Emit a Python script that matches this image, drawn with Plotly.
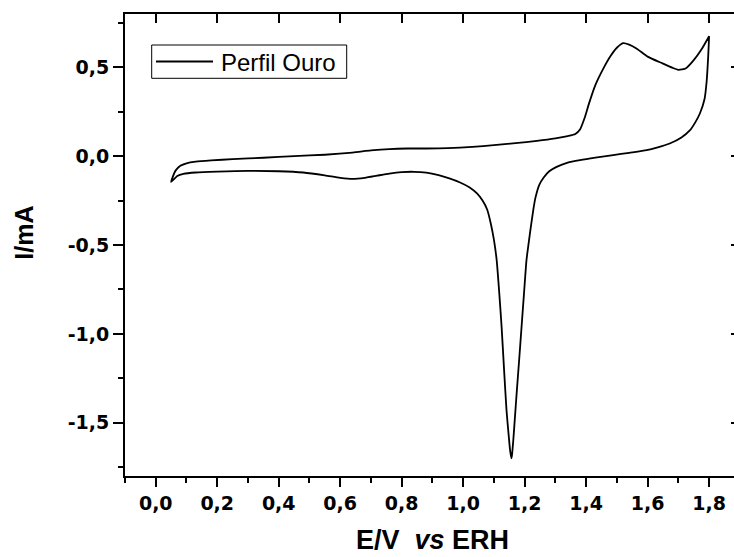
import plotly.graph_objects as go

# Forward (anodic) scan: 0.05 V -> 1.80 V
E_fwd = [0.050, 0.055, 0.065, 0.080, 0.100, 0.130, 0.180, 0.250, 0.350, 0.450,
         0.550, 0.640, 0.700, 0.760, 0.820, 0.880, 0.950, 1.030, 1.100, 1.170,
         1.240, 1.300, 1.340, 1.365, 1.380, 1.395, 1.410, 1.430, 1.455, 1.480,
         1.500, 1.520, 1.540, 1.565, 1.600, 1.650, 1.680, 1.700, 1.725, 1.750,
         1.775, 1.800]
I_fwd = [-0.145, -0.118, -0.080, -0.054, -0.040, -0.031, -0.024, -0.017, -0.009, 0.000,
         0.008, 0.020, 0.032, 0.040, 0.043, 0.043, 0.045, 0.052, 0.062, 0.073,
         0.086, 0.100, 0.113, 0.125, 0.150, 0.215, 0.300, 0.400, 0.490, 0.565,
         0.610, 0.636, 0.628, 0.605, 0.560, 0.521, 0.498, 0.486, 0.495, 0.540,
         0.600, 0.675]

# Reverse (cathodic) scan: 1.80 V -> 0.05 V
E_bwd = [1.800, 1.797, 1.792, 1.785, 1.770, 1.755, 1.738, 1.710, 1.672, 1.630,
         1.597, 1.540, 1.488, 1.430, 1.380, 1.340, 1.304, 1.280, 1.262, 1.248,
         1.235, 1.228, 1.220, 1.213, 1.206, 1.198, 1.190, 1.182, 1.174, 1.168,
         1.163, 1.159, 1.157, 1.153, 1.148, 1.141, 1.133, 1.125, 1.117, 1.109,
         1.100, 1.090, 1.078, 1.063, 1.045, 1.020, 0.990, 0.955, 0.920, 0.880,
         0.840, 0.800, 0.760, 0.720, 0.680, 0.640, 0.600, 0.550, 0.480, 0.400,
         0.300, 0.200, 0.130, 0.090, 0.070, 0.050]
I_bwd = [0.675, 0.560, 0.420, 0.320, 0.240, 0.190, 0.146, 0.105, 0.071, 0.048,
         0.034, 0.019, 0.006, -0.008, -0.022, -0.036, -0.060, -0.085, -0.120, -0.160,
         -0.235, -0.304, -0.400, -0.490, -0.585, -0.770, -0.960, -1.150, -1.335, -1.480,
         -1.600, -1.680, -1.700, -1.660, -1.570, -1.430, -1.200, -0.960, -0.760, -0.585,
         -0.470, -0.380, -0.300, -0.250, -0.210, -0.175, -0.148, -0.125, -0.107, -0.093,
         -0.088, -0.090, -0.098, -0.110, -0.122, -0.128, -0.122, -0.108, -0.092, -0.085,
         -0.083, -0.087, -0.092, -0.100, -0.112, -0.145]

x_tickvals = [0.0, 0.2, 0.4, 0.6, 0.8, 1.0, 1.2, 1.4, 1.6, 1.8]
x_ticktext = ["0,0", "0,2", "0,4", "0,6", "0,8", "1,0", "1,2", "1,4", "1,6", "1,8"]
y_tickvals = [-1.5, -1.0, -0.5, 0.0, 0.5]
y_ticktext = ["-1,5", "-1,0", "-0,5", "0,0", "0,5"]

series_name = "Perfil Ouro"
x_title = "<b>E/V  <i>vs</i> ERH</b>"
y_title = "<b>I/mA</b>"

E = E_fwd + E_bwd
I = I_fwd + I_bwd

XR = [-0.1, 1.881]
YR = [-1.8, 0.8]

# plot area in pixels: x 125..734, y 14..476
def px(x):
    return (x - 125) / 609.0

def py(y):
    return (476 - y) / 462.0

tickfont = dict(family="DejaVu Sans", size=19, color="black", weight="bold")

fig = go.Figure()
fig.add_trace(go.Scatter(
    x=E, y=I, mode="lines", name=series_name, showlegend=False,
    line=dict(color="black", width=1.8, shape="spline", smoothing=0.6),
))
# invisible trace for the mirrored (top / right) axes
fig.add_trace(go.Scatter(
    x=E, y=I, mode="lines", xaxis="x2", yaxis="y2", showlegend=False,
    hoverinfo="skip", line=dict(color="rgba(0,0,0,0)", width=0),
))

fig.update_layout(
    width=734, height=557,
    margin=dict(l=125, r=0, t=14, b=81),
    paper_bgcolor="white", plot_bgcolor="white",
    showlegend=False,
    xaxis=dict(
        range=XR, showgrid=False, zeroline=False,
        showline=True, linecolor="black", linewidth=2,
        tickmode="array", tickvals=x_tickvals, ticktext=x_ticktext,
        ticks="outside", ticklen=9, tickwidth=2, tickcolor="black",
        tickfont=tickfont,
        minor=dict(dtick=0.1, tick0=0, ticks="outside", ticklen=5, tickwidth=2, tickcolor="black", showgrid=False),
    ),
    yaxis=dict(
        range=YR, showgrid=False, zeroline=False,
        showline=True, linecolor="black", linewidth=2,
        tickmode="array", tickvals=y_tickvals, ticktext=y_ticktext,
        ticks="outside", ticklen=10, tickwidth=2, tickcolor="black",
        tickfont=tickfont,
        minor=dict(dtick=0.25, tick0=0, ticks="outside", ticklen=5, tickwidth=2, tickcolor="black", showgrid=False),
    ),
    xaxis2=dict(
        range=XR, overlaying="x", side="top", anchor="y2",
        showgrid=False, zeroline=False,
        showline=True, linecolor="black", linewidth=2,
        tickmode="array", tickvals=x_tickvals,
        ticks="inside", ticklen=9, tickwidth=2, tickcolor="black",
        showticklabels=False,
    ),
    yaxis2=dict(
        range=YR, overlaying="y", side="right", anchor="x2",
        showgrid=False, zeroline=False, showline=False,
        tickmode="array", tickvals=y_tickvals,
        ticks="inside", ticklen=3, tickwidth=2, tickcolor="black",
        showticklabels=False,
    ),
    shapes=[
        # legend box
        dict(type="rect", xref="paper", yref="paper",
             x0=px(151.7), x1=px(346.7), y0=py(78.3), y1=py(45),
             line=dict(color="black", width=1), fillcolor="white", layer="above"),
        # legend line sample
        dict(type="line", xref="paper", yref="paper",
             x0=px(156), x1=px(213), y0=py(61.5), y1=py(61.5),
             line=dict(color="black", width=1.8), layer="above"),
    ],
    annotations=[
        dict(text=series_name, xref="paper", x=px(219), yref="paper", y=py(62),
             xanchor="left", yanchor="middle", showarrow=False,
             font=dict(family="Liberation Sans", size=24, color="black")),
        dict(text=x_title, xref="x", x=0.9, yref="paper", y=py(557),
             xanchor="center", yanchor="bottom", showarrow=False,
             font=dict(family="Liberation Sans", size=27, color="black")),
        dict(text=y_title, xref="paper", x=px(24), yref="paper", y=py(232.7),
             xanchor="center", yanchor="middle", showarrow=False, textangle=-90,
             font=dict(family="Liberation Sans", size=25, color="black")),
    ],
)

fig.write_html("out.html")
